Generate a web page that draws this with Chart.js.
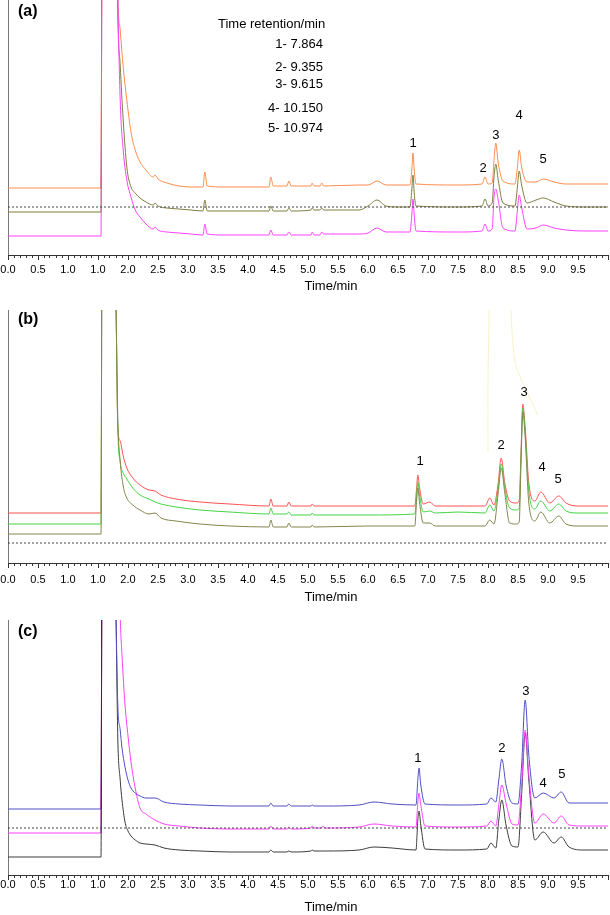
<!DOCTYPE html>
<html>
<head>
<meta charset="utf-8">
<script src="https://cdn.jsdelivr.net/npm/chart.js@4.4.0/dist/chart.umd.min.js"></script>
<style>
  html, body { margin: 0; padding: 0; background: #fff; }
  body { width: 610px; height: 915px; position: relative; overflow: hidden; }
  canvas { position: absolute; left: 0; }
</style>
</head>
<body>
<canvas id="chartA" width="610" height="300" style="top:0px"></canvas>
<canvas id="chartB" width="610" height="310" style="top:300px"></canvas>
<canvas id="chartC" width="610" height="305" style="top:610px"></canvas>
<script>
// tick labels as printed on the original (note the repeated "1.0")
const tickLabels = ['0.0', '0.5', '1.0', '1.0', '2.0', '2.5', '3.0', '3.5', '4.0', '4.5',
  '5.0', '5.5', '6.0', '6.5', '7.0', '7.5', '8.0', '8.5', '9.0', '9.5'];

const peakNames = ['1', '2', '3', '4', '5'];
const retentionTitle = 'Time retention/min';
const retentionLines = ['1- 7.864', '2- 9.355', '3- 9.615', '4- 10.150', '5- 10.974'];

// ---- panel (a) ----
const timeA = [0, 1.55, 1.57, 1.80, 1.83, 1.87, 1.92, 1.98, 2.05, 2.12, 2.2, 2.3, 2.42, 2.45, 2.5,
  2.65, 2.85, 3.05, 3.25, 3.28, 3.32, 3.6, 4.0, 4.35, 4.38, 4.42, 4.65, 4.68, 4.72, 5.05,
  5.07, 5.1, 5.2, 5.23, 5.26, 5.85, 6.0, 6.15, 6.3, 6.5, 6.7, 6.73, 6.75, 6.77, 6.8,
  7.5, 7.9, 7.95, 8.0, 8.07, 8.1, 8.13, 8.17, 8.25, 8.45, 8.49, 8.52, 8.56, 8.65, 8.8,
  8.92, 9.1, 9.3, 9.6, 10];
const orangeA = [67, 67, 400, 400, 260, 225, 188, 155, 123, 105, 93, 85, 78, 80, 76,
  72, 69, 68, 68, 83, 69, 68, 68, 68, 78, 69, 69, 74, 69, 69,
  72, 69, 69, 72, 69, 70, 70, 74, 70, 70, 70, 85, 102, 85, 71,
  70, 71, 78, 71, 72, 95, 112, 92, 74, 71, 88, 105, 88, 73, 73,
  76, 73, 71, 71, 71];
const oliveA = [43, 43, 400, 400, 240, 190, 135, 88, 68, 62, 57, 53, 50, 52, 49,
  47, 46, 45, 44, 55, 44, 44, 44, 44, 49, 44, 44, 47, 44, 45,
  47, 45, 45, 47, 45, 45, 49, 55, 49, 48, 48, 65, 80, 62, 49,
  48, 49, 56, 49, 52, 78, 91, 75, 52, 49, 68, 84, 70, 52, 55,
  57, 53, 49, 48, 48];
const pinkA = [19, 19, 400, 400, 260, 155, 105, 75, 58, 45, 38, 31, 26, 28, 25,
  23, 22, 21, 20, 31, 21, 20, 20, 20, 25, 20, 20, 23, 20, 20,
  23, 20, 20, 23, 21, 21, 22, 27, 23, 23, 23, 40, 56, 40, 24,
  23, 24, 31, 24, 26, 58, 66, 55, 27, 24, 45, 60, 48, 26, 27,
  30, 27, 25, 24, 24];
const peakTimeA = [6.75, 7.92, 8.13, 8.52, 8.92];
const peakHeightA = [112, 87, 120, 140, 96];

// ---- panel (b) ----
const timeB = [0, 1.55, 1.57, 1.76, 1.8, 1.83, 1.87, 1.92, 1.98, 2.08, 2.2, 2.35, 2.45, 2.55, 2.8,
  3.2, 3.7, 4.35, 4.38, 4.42, 4.65, 4.68, 4.72, 5.05, 5.07, 5.1, 6.0, 6.78, 6.81, 6.83,
  6.86, 6.92, 7.03, 7.12, 7.5, 7.95, 8.03, 8.1, 8.17, 8.22, 8.28, 8.36, 8.47, 8.52, 8.55,
  8.58, 8.62, 8.68, 8.78, 8.88, 9.03, 9.18, 9.3, 9.5, 10];
const redB = [50, 50, 400, 400, 260, 135, 122, 107, 95, 85, 78, 73, 72, 68, 64,
  61, 59, 57, 64, 57, 57, 61, 57, 57, 59, 57, 57, 57, 75, 88,
  75, 59, 61, 57, 57, 57, 65, 58, 80, 105, 80, 62, 60, 62, 110,
  159, 135, 80, 62, 71, 60, 67, 60, 57, 57];
const greenB = [39, 39, 400, 400, 260, 135, 101, 90, 84, 75, 68, 64, 61, 59, 56,
  53, 51, 49, 55, 49, 49, 51, 48, 48, 50, 48, 48, 49, 68, 81,
  68, 51, 52, 50, 51, 50, 58, 52, 75, 99, 75, 55, 53, 55, 105,
  155, 130, 72, 54, 62, 52, 59, 52, 50, 50];
const oliveB = [29, 29, 400, 400, 260, 145, 102, 77, 65, 58, 53, 49, 50, 45, 42,
  39, 37, 36, 43, 36, 36, 40, 36, 36, 38, 36, 37, 37, 62, 75,
  60, 40, 40, 37, 37, 37, 43, 39, 70, 95, 70, 40, 39, 41, 100,
  151, 125, 60, 42, 51, 40, 47, 39, 37, 37];
const peakTimeB = [6.87, 8.22, 8.6, 8.9, 9.17];
const peakHeightB = [102, 118, 171, 96, 84];
// two faint yellowish stray strokes visible on the scanned panel (b)
const strayTime1 = [8.02, 8.0, 8.0];
const strayHeight1 = [253, 180, 111];
const strayTime2 = [8.38, 8.45, 8.62, 8.83];
const strayHeight2 = [253, 201, 175, 148];

// ---- panel (c) ----
const timeC = [0, 1.55, 1.57, 1.76, 1.8, 1.83, 1.87, 1.9, 1.95, 2.0, 2.05, 2.12, 2.2, 2.3, 2.45,
  2.6, 2.85, 3.2, 3.7, 4.35, 4.38, 4.42, 4.65, 4.68, 4.72, 5.05, 5.07, 5.1, 5.22, 5.25,
  5.28, 5.85, 6.1, 6.4, 6.8, 6.83, 6.85, 6.88, 6.95, 7.5, 7.98, 8.05, 8.13, 8.18, 8.23,
  8.3, 8.4, 8.5, 8.56, 8.62, 8.68, 8.78, 8.92, 9.1, 9.22, 9.35, 9.6, 10];
const blueC = [66, 66, 400, 400, 260, 170, 145, 127, 108, 95, 87, 82, 79, 77, 77,
  73, 71, 70, 69, 69, 72, 69, 69, 71, 69, 69, 70, 69, 69, 69,
  69, 70, 73, 71, 70, 95, 107, 90, 71, 70, 71, 77, 73, 95, 116,
  90, 72, 71, 110, 175, 120, 77, 82, 77, 83, 72, 72, 72];
const pinkC = [42, 42, 400, 400, 400, 400, 260, 220, 170, 139, 113, 87, 67, 61, 55,
  51, 49, 47, 46, 46, 49, 46, 46, 48, 46, 47, 49, 47, 47, 49,
  47, 48, 51, 49, 48, 72, 82, 70, 49, 48, 49, 54, 49, 70, 90,
  72, 51, 50, 90, 145, 100, 52, 61, 52, 59, 50, 49, 49];
const blackC = [18, 18, 400, 400, 260, 137, 95, 75, 53, 44, 39, 35, 32, 31, 30,
  27, 25, 24, 23, 23, 25, 23, 23, 24, 23, 24, 25, 24, 24, 24,
  24, 25, 28, 27, 25, 55, 64, 50, 26, 25, 26, 32, 27, 55, 75,
  50, 29, 28, 80, 142, 95, 35, 43, 32, 38, 28, 25, 25];
const peakTimeC = [6.83, 8.23, 8.63, 8.92, 9.23];
const peakHeightC = [117, 127, 184, 92, 101];

// level of the dotted reference line in each panel
const dottedLevels = [48, 20, 47];

const FONT = '"Liberation Sans", Arial, Helvetica, sans-serif';

function textPlugin(p) {
  return {
    id: 'panelText',
    afterDraw(chart) {
      const ctx = chart.ctx;
      const sx = chart.scales.x, sy = chart.scales.y;
      ctx.save();
      // longer major ticks every 0.5 min
      ctx.strokeStyle = '#333';
      ctx.lineWidth = 1;
      for (let k = 0; k <= 20; k++) {
        const px = Math.round(sx.getPixelForValue(k * 0.5)) + 0.5;
        ctx.beginPath();
        ctx.moveTo(px, sx.top);
        ctx.lineTo(px, sx.top + 5);
        ctx.stroke();
      }
      ctx.fillStyle = '#000';
      ctx.textBaseline = 'middle';
      ctx.font = 'bold 16px ' + FONT;
      ctx.textAlign = 'left';
      ctx.fillText(p.letter, 18, p.letterY);
      ctx.font = '13px ' + FONT;
      ctx.textAlign = 'center';
      p.peakTime.forEach((t, i) => {
        ctx.fillText(peakNames[i], sx.getPixelForValue(t), sy.getPixelForValue(p.peakHeight[i]));
      });
      ctx.fillText('Time/min', 331, p.titleY);
      if (p.legend) {
        ctx.textAlign = 'left';
        ctx.fillText(retentionTitle, 218, 24);
        ctx.textAlign = 'right';
        const ys = [44, 67, 84, 108, 128];
        retentionLines.forEach((s, i) => ctx.fillText(s, 323, ys[i]));
      }
      ctx.restore();
    }
  };
}

function makePanel(id, p) {
  const datasets = p.traces.map(t => ({
    data: p.time.map((x, j) => ({ x: x, y: t.values[j] })),
    borderColor: t.color,
    borderWidth: 1,
    pointRadius: 0,
    cubicInterpolationMode: 'monotone',
    order: t.order,
    segment: {
      borderColor: c => (t.spike && c.p0DataIndex === 1 ? t.spike : undefined)
    }
  }));
  datasets.push({
    data: [{ x: 0, y: p.dotted }, { x: 10, y: p.dotted }],
    borderColor: '#444',
    borderWidth: 1,
    borderDash: [2, 2],
    pointRadius: 0,
    order: 0
  });
  (p.stray || []).forEach(s => {
    datasets.push({
      data: s.time.map((x, j) => ({ x: x, y: s.values[j] })),
      borderColor: 'rgba(238, 232, 150, 0.55)',
      borderWidth: 1,
      pointRadius: 0,
      tension: 0.3,
      order: 9
    });
  });

  new Chart(document.getElementById(id), {
    type: 'line',
    data: { datasets: datasets },
    options: {
      responsive: false,
      animation: false,
      events: [],
      layout: { padding: { left: 8, right: 2, top: p.top, bottom: 0 } },
      plugins: { legend: { display: false }, tooltip: { enabled: false } },
      scales: {
        x: {
          type: 'linear',
          min: 0,
          max: 10,
          afterFit: s => { s.height = p.xHeight; s.paddingLeft = 0; s.paddingRight = 0; },
          grid: { drawOnChartArea: false, tickLength: 3, color: '#333' },
          border: { color: '#333', width: 1 },
          ticks: {
            stepSize: 0.1,
            autoSkip: false,
            maxRotation: 0,
            minRotation: 0,
            padding: p.tickPad,
            color: '#000',
            font: { family: FONT, size: 11 },
            callback: v => {
              const k = Math.round(v * 2);
              return Math.abs(v * 2 - k) < 1e-6 ? (tickLabels[k] || '') : '';
            }
          }
        },
        y: {
          type: 'linear',
          min: 0,
          max: p.yMax,
          afterFit: s => { s.width = 0; },
          ticks: { display: false },
          grid: { drawOnChartArea: false, drawTicks: false },
          border: { color: '#777', width: 1 }
        }
      }
    },
    plugins: [textPlugin(p)]
  });
}

makePanel('chartA', {
  time: timeA, top: 0, xHeight: 45, yMax: 255, tickPad: 5, dotted: dottedLevels[0],
  letter: '(a)', letterY: 12, titleY: 286, legend: true,
  peakTime: peakTimeA, peakHeight: peakHeightA,
  traces: [
    { values: orangeA, color: '#ff8c4c', order: 3, spike: '#ff2020' },
    { values: oliveA, color: '#7e7e40', order: 2 },
    { values: pinkA, color: '#ff40ff', order: 1 }
  ]
});

makePanel('chartB', {
  time: timeB, top: 10, xHeight: 47, yMax: 253, tickPad: 7, dotted: dottedLevels[1],
  letter: '(b)', letterY: 20, titleY: 297, legend: false,
  peakTime: peakTimeB, peakHeight: peakHeightB,
  stray: [
    { time: strayTime1, values: strayHeight1 },
    { time: strayTime2, values: strayHeight2 }
  ],
  traces: [
    { values: redB, color: '#ff5050', order: 3 },
    { values: greenB, color: '#44d444', order: 2 },
    { values: oliveB, color: '#84844c', order: 1 }
  ]
});

makePanel('chartC', {
  time: timeC, top: 10, xHeight: 40, yMax: 255, tickPad: 0, dotted: dottedLevels[2],
  letter: '(c)', letterY: 22, titleY: 297, legend: false,
  peakTime: peakTimeC, peakHeight: peakHeightC,
  traces: [
    { values: blueC, color: '#4e4ec4', order: 1, spike: '#7a007a' },
    { values: pinkC, color: '#ff40ff', order: 2, spike: '#7a007a' },
    { values: blackC, color: '#3c3c3c', order: 3 }
  ]
});
</script>
</body>
</html>
